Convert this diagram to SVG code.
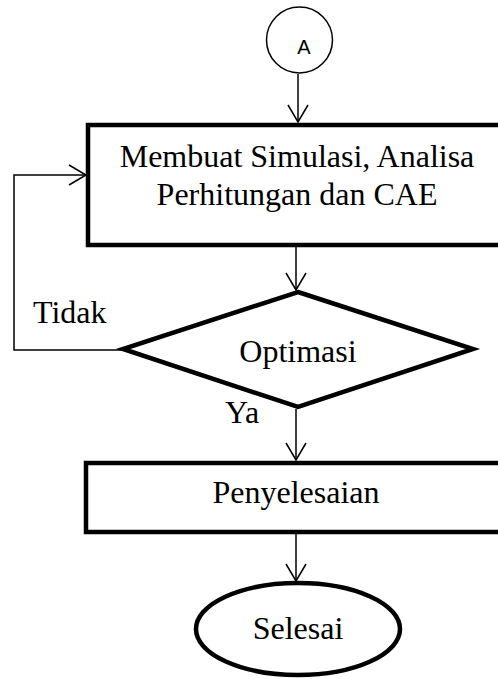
<svg xmlns="http://www.w3.org/2000/svg" width="498" height="679" viewBox="0 0 498 679">
<style>
.node{fill:#fff;stroke:#000;stroke-width:4.5}
.thin{fill:#fff;stroke:#000;stroke-width:1.5}
.t{font-family:"Liberation Serif","Times New Roman",serif;font-size:32px;fill:#000}
.c{text-anchor:middle}
.conn{fill:none;stroke:#000;stroke-width:1.5}
</style>
<defs>
<marker id="arr" markerUnits="userSpaceOnUse" markerWidth="30" markerHeight="30" viewBox="-20 -15 30 30" refX="0" refY="0" orient="auto">
<path d="M-17,-10 L0,0 L-17,10" fill="none" stroke="#000" stroke-width="1.5"/>
</marker>
</defs>
<rect width="498" height="679" fill="#fff"/>
<g id="connectors">
<line class="conn" x1="298" y1="74" x2="298" y2="122" marker-end="url(#arr)"/>
<line class="conn" x1="296" y1="247" x2="296" y2="290" marker-end="url(#arr)"/>
<line class="conn" x1="296" y1="409" x2="296" y2="460" marker-end="url(#arr)"/>
<line class="conn" x1="296" y1="534" x2="296" y2="581" marker-end="url(#arr)"/>
<polyline class="conn" points="123,350 14,350 14,175 86,175" marker-end="url(#arr)"/>
</g>
<g id="connectorA">
<circle class="thin" cx="299.5" cy="40" r="33"/>
<text x="304" y="54" text-anchor="middle" font-family="Liberation Sans, Arial, sans-serif" font-size="20">A</text>
</g>
<g id="simulasi">
<rect class="node" x="88" y="125" width="420" height="120"/>
<text class="t c" x="297" y="167">Membuat Simulasi, Analisa</text>
<text class="t c" x="297" y="205">Perhitungan dan CAE</text>
</g>
<g id="optimasi">
<polygon class="node" points="298,292 473,349 298,407 123,349" stroke-linejoin="miter"/>
<text class="t c" x="298" y="362">Optimasi</text>
</g>
<g id="labels">
<text class="t" x="33" y="323">Tidak</text>
<text class="t" x="225" y="423">Ya</text>
</g>
<g id="penyelesaian">
<rect class="node" x="86" y="463" width="422" height="69"/>
<text class="t c" x="296" y="503">Penyelesaian</text>
</g>
<g id="selesai">
<ellipse class="node" cx="298" cy="629" rx="102" ry="46"/>
<text class="t c" x="298" y="639">Selesai</text>
</g>
</svg>
